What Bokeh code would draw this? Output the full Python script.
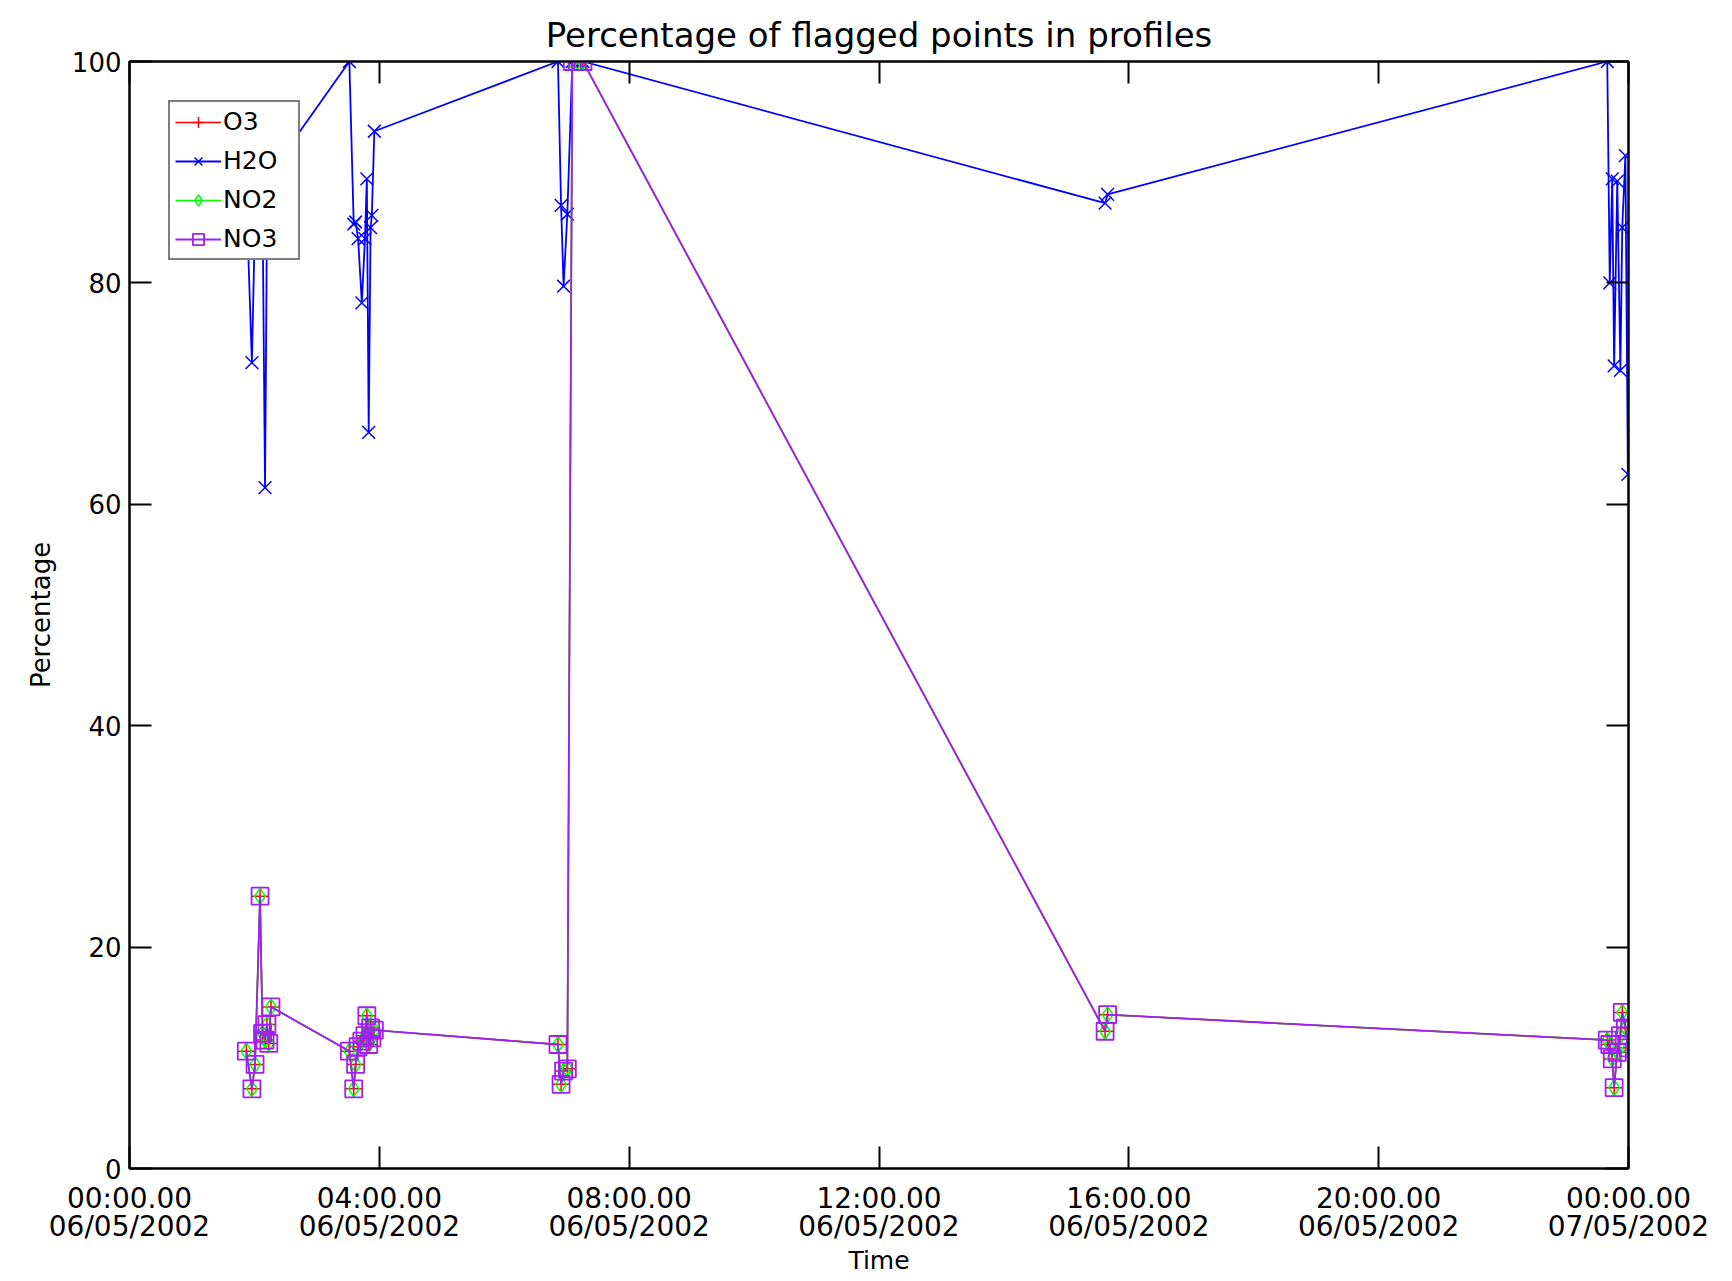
from bokeh.plotting import figure
from bokeh.models import LinearAxis, FixedTicker, Range1d
from bokeh.embed import file_html
from bokeh.resources import INLINE

# ---------------- data (hours since 00:00 06/05/2002, percent) ----------------
hours = [
    1.87, 1.96, 2.01, 2.09, 2.13, 2.17, 2.20, 2.23, 2.265,
    3.52, 3.59, 3.62, 3.66, 3.72, 3.77, 3.80, 3.83, 3.86, 3.88, 3.92,
    6.86, 6.91, 6.95, 7.01, 7.09, 7.17, 7.26,
    15.62, 15.66,
    23.66, 23.70, 23.74, 23.77, 23.82, 23.87, 23.90, 23.95, 23.99,
]

h2o = [
    88.0, 72.8, 86.0, 84.0, 87.0, 61.5, 85.0, 88.0, 90.0,
    100.0, 85.3, 85.5, 84.0, 78.2, 84.0, 89.4, 66.5, 85.0, 86.1, 93.7,
    100.0, 87.0, 79.7, 86.2, 100.0, 100.0, 100.0,
    87.2, 88.0,
    100.0, 80.0, 89.4, 72.5, 89.2, 72.1, 85.0, 91.5, 62.7,
]

o3 = [
    10.6, 7.2, 9.4, 24.6, 12.2, 11.6, 13.0, 11.3, 14.6,
    10.6, 7.2, 9.4, 11.0, 11.5, 12.0, 13.8, 11.2, 12.7, 11.8, 12.5,
    11.2, 7.6, 8.8, 9.0, 100.0, 100.0, 100.0,
    12.4, 13.9,
    11.6, 11.2, 9.9, 7.3, 10.5, 12.0, 14.1, 12.7, 10.9,
]

no2 = [
    10.6, 7.2, 9.4, 24.6, 12.2, 11.6, 13.0, 11.3, 14.6,
    10.6, 7.2, 9.4, 11.0, 11.5, 12.0, 13.8, 11.2, 12.7, 11.8, 12.5,
    11.2, 7.6, 8.8, 9.0, 100.0, 100.0, 100.0,
    12.4, 13.9,
    11.6, 11.2, 9.9, 7.3, 10.5, 12.0, 14.1, 12.7, 10.9,
]

no3 = [
    10.6, 7.2, 9.4, 24.6, 12.2, 11.6, 13.0, 11.3, 14.6,
    10.6, 7.2, 9.4, 11.0, 11.5, 12.0, 13.8, 11.2, 12.7, 11.8, 12.5,
    11.2, 7.6, 8.8, 9.0, 100.0, 100.0, 100.0,
    12.4, 13.9,
    11.6, 11.2, 9.9, 7.3, 10.5, 12.0, 14.1, 12.7, 10.9,
]

x_ticks = [0, 4, 8, 12, 16, 20, 24]
x_tick_labels = [
    "00:00.00\n06/05/2002",
    "04:00.00\n06/05/2002",
    "08:00.00\n06/05/2002",
    "12:00.00\n06/05/2002",
    "16:00.00\n06/05/2002",
    "20:00.00\n06/05/2002",
    "00:00.00\n07/05/2002",
]
y_ticks = [0, 20, 40, 60, 80, 100]

# ---------------- figure ----------------
FONT = "DejaVu Sans"

p = figure(width=1716, height=1280, output_backend="svg", toolbar_location=None,
           x_range=Range1d(0, 24), y_range=Range1d(0, 100),
           min_border_left=129, min_border_right=88,
           min_border_top=61, min_border_bottom=112,
           title="Percentage of flagged points in profiles")

p.title.text_font = FONT
p.title.text_font_size = "34px"
p.title.text_font_style = "normal"
p.title.align = "center"
p.title.text_color = "black"
p.title.standoff = 13

p.xgrid.visible = False
p.ygrid.visible = False
p.outline_line_color = "black"
p.outline_line_width = 2
p.background_fill_color = "white"
p.border_fill_color = "white"

p.add_layout(LinearAxis(), "above")
p.add_layout(LinearAxis(), "right")

for ax in p.xaxis:
    ax.ticker = FixedTicker(ticks=x_ticks, minor_ticks=[])
    ax.major_label_overrides = {t: l for t, l in zip(x_ticks, x_tick_labels)}
for ax in p.yaxis:
    ax.ticker = FixedTicker(ticks=y_ticks, minor_ticks=[])

for ax in p.axis:
    ax.major_tick_in = 22
    ax.major_tick_out = 0
    ax.minor_tick_in = 0
    ax.minor_tick_out = 0
    ax.axis_line_width = 2
    ax.axis_line_color = "black"
    ax.major_tick_line_width = 2
    ax.major_tick_line_color = "black"
    ax.major_label_text_font = FONT
    ax.major_label_text_font_size = "26px"
    ax.major_label_text_color = "black"
    ax.axis_label_text_font = FONT
    ax.axis_label_text_font_size = "25px"
    ax.axis_label_text_font_style = "normal"
    ax.axis_label_text_color = "black"

p.above[-1].major_label_text_font_size = "0px"
p.above[-1].major_label_standoff = 0
p.right[-1].major_label_text_font_size = "0px"
p.right[-1].major_label_standoff = 0

bx = p.below[0]
bx.axis_label = "Time"
bx.major_label_text_font_size = "28px"
bx.major_label_text_line_height = 0.85
bx.major_label_standoff = 13
bx.axis_label_standoff = 0

ly = p.left[0]
ly.axis_label = "Percentage"
ly.axis_label_text_font_size = "26px"
ly.major_label_standoff = 8
ly.axis_label_standoff = 13

# ---------------- series ----------------
RED, BLUE, GREEN, PURPLE = "#ff0000", "#0000ff", "#00ff00", "#a020f0"

p.line(hours, o3, line_color=RED, line_width=1.5, legend_label="O3")
p.scatter(hours, o3, marker="cross", size=17, line_color=RED, line_width=1.5,
          legend_label="O3")

p.line(hours, h2o, line_color=BLUE, line_width=1.8, legend_label="H2O")
p.scatter(hours, h2o, marker="x", size=18, line_color=BLUE, line_width=1.5,
          legend_label="H2O")

p.line(hours, no2, line_color=GREEN, line_width=1.5, legend_label="NO2")
p.scatter(hours, no2, marker="diamond", size=16, line_color=GREEN, fill_color=None,
          line_width=1.5, legend_label="NO2")

p.line(hours, no3, line_color=PURPLE, line_width=1.8, legend_label="NO3")
p.scatter(hours, no3, marker="square", size=17, line_color=PURPLE, fill_color=None,
          line_width=1.8, legend_label="NO3")

lg = p.legend[0]
lg.location = "top_left"
lg.margin = 39
lg.padding = 5
lg.spacing = 10
lg.glyph_width = 46
lg.glyph_height = 28
lg.label_standoff = 2
lg.label_width = 70
lg.label_text_font = FONT
lg.label_text_font_size = "25px"
lg.label_text_color = "black"
lg.border_line_color = "black"
lg.border_line_width = 2
lg.background_fill_color = "white"
lg.background_fill_alpha = 1.0

open("out.html", "w").write(file_html(p, INLINE))
